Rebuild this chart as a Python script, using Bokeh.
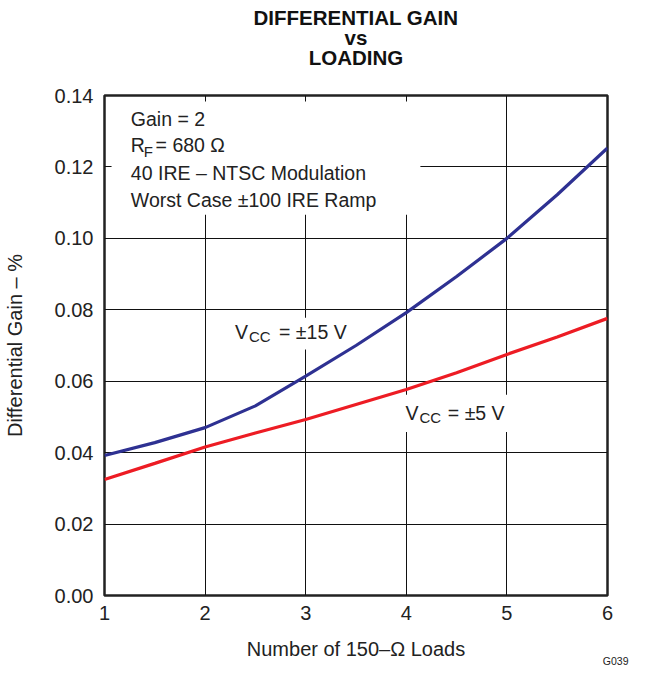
from bokeh.plotting import figure
from bokeh.models import (Range1d, FixedTicker, PrintfTickFormatter, Label, BoxAnnotation, Title)
from bokeh.embed import file_html
from bokeh.resources import INLINE

# ---- data ----
loads = [1, 1.5, 2, 2.5, 3, 3.5, 4, 4.5, 5, 5.5, 6]
gain_vcc15 = [0.0392, 0.0428, 0.0470, 0.0531, 0.0614, 0.0700, 0.0792, 0.0893, 0.1000, 0.1122, 0.1253]
gain_vcc5 = [0.0325, 0.0370, 0.0416, 0.0455, 0.0493, 0.0535, 0.0577, 0.0624, 0.0675, 0.0724, 0.0776]
x_ticks = [1, 2, 3, 4, 5, 6]
y_ticks = [0.00, 0.02, 0.04, 0.06, 0.08, 0.10, 0.12, 0.14]
title_lines = ["DIFFERENTIAL GAIN", "vs", "LOADING"]

FONT = "Liberation Sans"
TXT = "#222222"
DY = 0.0018  # baseline correction

H = 667
p = figure(width=633, height=H, output_backend="svg", toolbar_location=None,
           x_range=Range1d(1, 6), y_range=Range1d(0, 0.14), title=None,
           min_border_left=98, min_border_right=26, min_border_top=95, min_border_bottom=H - 595)

# spacer between frame and title block (nearest the frame)
p.add_layout(Title(text=" ", text_font=FONT, text_font_size="24.3px", text_line_height=1.0, standoff=0), "above")
# title lines: added bottom-up (each new one goes above the previous)
for t in reversed(title_lines):
    p.add_layout(Title(text=t, align="center", text_font=FONT, text_font_style="bold",
                       text_font_size="20.5px", text_color="#111111", text_line_height=1.0,
                       standoff=-5), "above")

p.outline_line_color = "#222222"
p.outline_line_width = 2.5
p.background_fill_color = "white"
p.border_fill_color = "white"

for ax in (p.xaxis[0], p.yaxis[0]):
    ax.axis_line_color = None
    ax.major_tick_line_color = None
    ax.minor_tick_line_color = None
    ax.major_tick_in = 0
    ax.major_tick_out = 0
    ax.major_label_text_font = FONT
    ax.major_label_text_font_size = "20px"
    ax.major_label_text_color = TXT
    ax.axis_label_text_font = FONT
    ax.axis_label_text_font_size = "20px"
    ax.axis_label_text_font_style = "normal"
    ax.axis_label_text_color = TXT

p.xaxis.ticker = FixedTicker(ticks=x_ticks)
p.xaxis.formatter = PrintfTickFormatter(format="%d")
p.xaxis.major_label_standoff = 10
p.xaxis.axis_label = "Number of 150–Ω Loads"
p.xaxis.axis_label_standoff = 15

p.yaxis.ticker = FixedTicker(ticks=y_ticks)
p.yaxis.formatter = PrintfTickFormatter(format="%.2f")
p.yaxis.major_label_standoff = 11
p.yaxis.axis_label = "Differential Gain – %"
p.yaxis.axis_label_standoff = 26

# figure id below the axis label, right aligned
p.add_layout(Title(text="G039", align="right", offset=-21, vertical_align="top", standoff=-15,
                   text_font=FONT, text_font_size="10.5px", text_font_style="normal",
                   text_color=TXT, text_line_height=1.0), "below")

p.xgrid.ticker = FixedTicker(ticks=x_ticks)
p.ygrid.ticker = FixedTicker(ticks=y_ticks)
for g in (p.xgrid[0], p.ygrid[0]):
    g.grid_line_color = "#111111"
    g.grid_line_width = 1.0

# white boxes behind annotations (interrupt grid lines)
for (l, r, t, b) in [(1.07, 4.14, 0.1383, 0.1066), (2.24, 3.51, 0.0778, 0.0689), (3.91, 5.09, 0.0562, 0.0458)]:
    p.add_layout(BoxAnnotation(left=l, right=r, top=t, bottom=b, fill_color="white", fill_alpha=1.0,
                               line_color=None, level="underlay"))

p.line(loads, gain_vcc15, line_color="#2E3192", line_width=3.2)
p.line(loads, gain_vcc5, line_color="#ED1C24", line_width=3.2)

def lab(x, y, text, size="19.5px"):
    p.add_layout(Label(x=x, y=y + DY, text=text, text_font=FONT, text_font_size=size,
                       text_color=TXT, text_baseline="alphabetic", text_align="left"))

# condition text block
lab(1.262, 0.1316, "Gain = 2")
lab(1.262, 0.1244, "R")
lab(1.389, 0.1225, "F", "15px")
lab(1.508, 0.1244, "= 680 Ω")
lab(1.262, 0.1164, "40 IRE – NTSC Modulation")
lab(1.262, 0.1090, "Worst Case ±100 IRE Ramp")

# curve labels
lab(2.296, 0.0721, "V")
lab(2.436, 0.0707, "CC", "15px")
lab(2.735, 0.0721, "= ±15 V")
lab(3.991, 0.0492, "V")
lab(4.131, 0.0481, "CC", "15px")
lab(4.413, 0.0492, "= ±5 V")

open("out.html", "w").write(file_html(p, INLINE))
